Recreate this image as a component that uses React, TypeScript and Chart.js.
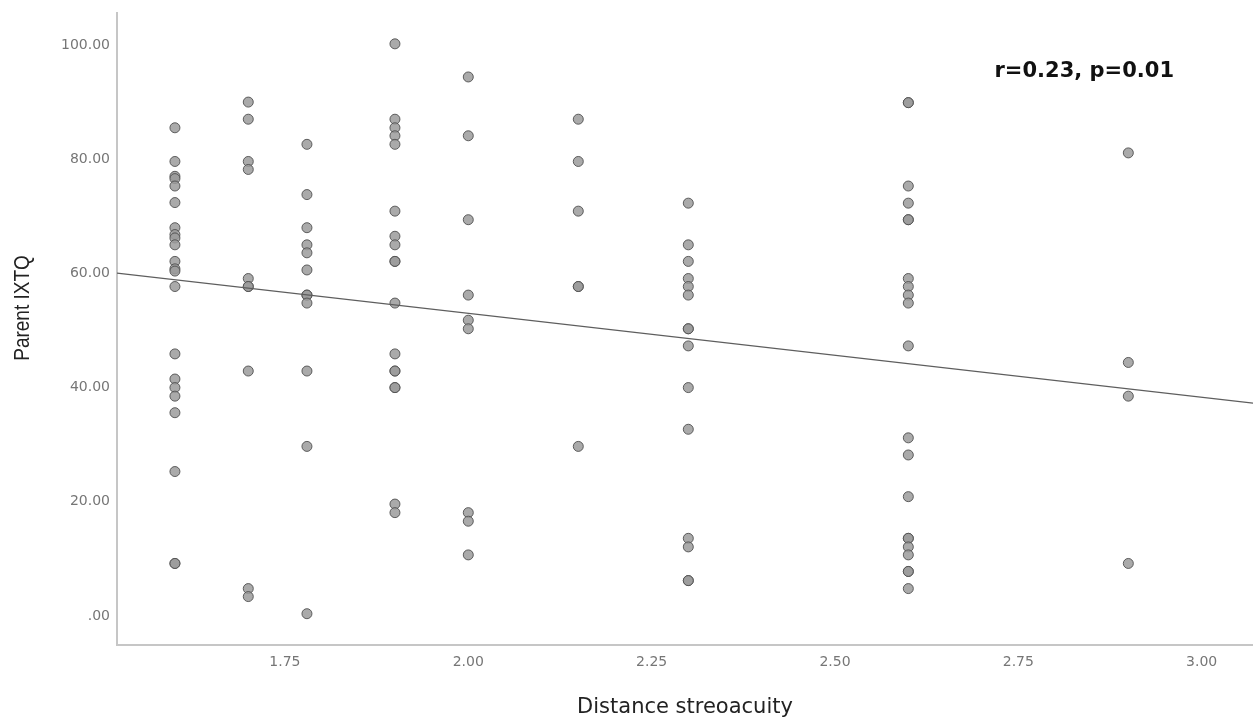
import React, { useEffect, useRef } from "react";
import { Chart, registerables } from "chart.js";

Chart.register(...registerables);

const xTitle = "Distance streoacuity";
const yTitle = "Parent IXTQ";
const statLabel = "r=0.23, p=0.01";

// x categories (log stereoacuity levels)
const distanceLevels = [1.6, 1.7, 1.78, 1.9, 2.0, 2.15, 2.3, 2.6, 2.9];

// Parent IXTQ values per distance level
const ixtqAt160 = [85.5, 79.6, 77.0, 76.6, 75.3, 72.4, 68.0, 66.8, 66.2, 65.0, 62.1, 60.8, 60.4, 57.7, 45.9, 41.5, 40.0, 38.5, 35.6, 25.3, 9.2, 9.2];
const ixtqAt170 = [90.0, 87.0, 79.6, 78.2, 59.1, 57.7, 57.7, 42.9, 4.8, 3.4];
const ixtqAt178 = [82.6, 73.8, 68.0, 65.0, 63.6, 60.6, 56.2, 56.2, 54.8, 42.9, 29.7, 0.4];
const ixtqAt190 = [100.2, 87.0, 85.5, 84.1, 82.6, 70.9, 66.5, 65.0, 62.1, 62.1, 54.8, 45.9, 42.9, 42.9, 40.0, 40.0, 19.6, 18.1];
const ixtqAt200 = [94.4, 84.1, 69.4, 56.2, 51.8, 50.3, 18.1, 16.6, 10.7];
const ixtqAt215 = [87.0, 79.6, 70.9, 57.7, 57.7, 29.7];
const ixtqAt230 = [72.3, 65.0, 62.1, 59.1, 57.7, 56.2, 50.3, 50.3, 47.3, 40.0, 32.7, 13.6, 12.1, 6.2, 6.2];
const ixtqAt260 = [89.9, 89.9, 75.3, 72.3, 69.4, 69.4, 59.1, 57.7, 56.2, 54.8, 47.3, 31.2, 28.2, 20.9, 13.6, 13.6, 12.1, 10.7, 7.8, 7.8, 4.8];
const ixtqAt290 = [81.1, 44.4, 38.5, 9.2];

const ixtqByLevel = [ixtqAt160, ixtqAt170, ixtqAt178, ixtqAt190, ixtqAt200, ixtqAt215, ixtqAt230, ixtqAt260, ixtqAt290];

// fit line coefficients
const fitIntercept = 82.4;
const fitSlope = -14.7;

// axis ticks and ranges
const xTicks = [1.75, 2.0, 2.25, 2.5, 2.75, 3.0];
const yTicks = [0, 20, 40, 60, 80, 100];
const xRange = [1.521, 3.07];
const yRange = [-5.08, 105.6];

export default function App() {
  const canvasRef = useRef<HTMLCanvasElement | null>(null);

  useEffect(() => {
    const canvas = canvasRef.current;
    if (!canvas) return;

    const points = distanceLevels.flatMap((x, i) => ixtqByLevel[i].map((y) => ({ x, y })));
    const fitLine = xRange.map((x) => ({ x, y: fitIntercept + fitSlope * x }));

    const overlayPlugin = {
      id: "overlayText",
      afterDraw(chart: any) {
        const ctx = chart.ctx as CanvasRenderingContext2D;
        // y axis title (stretched like the source image)
        ctx.save();
        ctx.translate(23, 308);
        ctx.scale(1.2, 1);
        ctx.rotate(-Math.PI / 2);
        ctx.font = "19px 'Liberation Sans', Arial, sans-serif";
        ctx.fillStyle = "#222222";
        ctx.textAlign = "center";
        ctx.textBaseline = "middle";
        ctx.fillText(yTitle, 0, 0);
        ctx.restore();
        // statistics label
        ctx.save();
        ctx.font = "bold 21px 'DejaVu Sans', sans-serif";
        ctx.fillStyle = "#111111";
        ctx.textAlign = "right";
        ctx.textBaseline = "alphabetic";
        ctx.fillText(statLabel, 1174, 77);
        ctx.restore();
      },
    };

    const chart = new Chart(canvas, {
      type: "scatter",
      data: {
        datasets: [
          {
            type: "line",
            label: "fit",
            data: fitLine,
            borderColor: "#5e5e5e",
            borderWidth: 1.2,
            pointRadius: 0,
            fill: false,
            order: 0,
          } as any,
          {
            type: "scatter",
            label: yTitle,
            data: points,
            pointRadius: 5,
            pointBorderWidth: 1,
            backgroundColor: "rgba(155,155,155,0.85)",
            borderColor: "rgba(80,80,80,0.9)",
            order: 1,
          } as any,
        ],
      },
      options: {
        responsive: false,
        animation: false,
        devicePixelRatio: 1,
        layout: { autoPadding: false, padding: { top: 13, right: 0, left: 0, bottom: 0 } },
        plugins: {
          legend: { display: false },
          tooltip: { enabled: false },
        },
        scales: {
          x: {
            type: "linear",
            min: xRange[0],
            max: xRange[1],
            afterBuildTicks: (scale: any) => {
              scale.ticks = xTicks.map((value) => ({ value }));
            },
            afterFit: (scale: any) => {
              scale.height = 74;
              scale.paddingLeft = 0;
              scale.paddingRight = 0;
            },
            ticks: {
              callback: (v: any) => Number(v).toFixed(2),
              color: "#767676",
              font: { family: "'DejaVu Sans', sans-serif", size: 14 },
              padding: 9,
              maxRotation: 0,
              autoSkip: false,
            },
            grid: { display: false, drawTicks: false },
            border: { display: true, color: "#c6c6c6", width: 2 },
            title: {
              display: true,
              text: xTitle,
              color: "#222222",
              font: { family: "'DejaVu Sans', sans-serif", size: 21, lineHeight: "22px" },
              padding: { top: 0, bottom: 0 },
            },
          },
          y: {
            type: "linear",
            min: yRange[0],
            max: yRange[1],
            afterBuildTicks: (scale: any) => {
              scale.ticks = yTicks.map((value) => ({ value }));
            },
            afterFit: (scale: any) => {
              scale.width = 117;
              scale.paddingTop = 0;
              scale.paddingBottom = 0;
            },
            ticks: {
              callback: (v: any) => (Number(v) === 0 ? ".00" : Number(v).toFixed(2)),
              color: "#767676",
              font: { family: "'DejaVu Sans', sans-serif", size: 14 },
              padding: 7,
              autoSkip: false,
            },
            grid: { display: false, drawTicks: false },
            border: { display: true, color: "#c6c6c6", width: 2 },
          },
        },
      },
      plugins: [overlayPlugin],
    } as any);

    return () => {
      chart.destroy();
    };
  }, []);

  return (
    <div style={{ position: "fixed", left: 0, top: 0, width: 1253, height: 719, background: "#ffffff" }}>
      <canvas ref={canvasRef} width={1253} height={719} style={{ display: "block" }} />
    </div>
  );
}
